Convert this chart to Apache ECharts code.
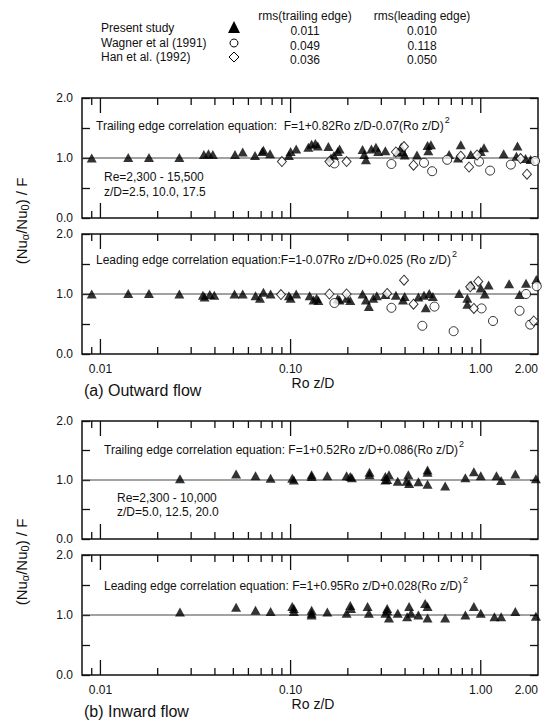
<!DOCTYPE html>
<html>
<head>
<meta charset="utf-8">
<script src="https://cdn.jsdelivr.net/npm/echarts@6/dist/echarts.min.js"></script>
<style>
  html, body { margin: 0; padding: 0; background: #fff; }
  #chart { width: 550px; height: 721px; }
</style>
</head>
<body>
<div id="chart"></div>
<script>
// Normalised Nusselt number ratio (Nu_a/Nu_0)/F against rotation parameter Ro z/D.
// (a) outward flow, (b) inward flow; trailing and leading edges.

// ---- (a) outward flow, trailing edge ----
const outTrailPresent = [
  [0.009,1.00],[0.014,1.01],[0.018,1.01],[0.026,1.01],[0.035,1.06],[0.037,1.07],[0.039,1.06],
  [0.051,1.06],[0.056,1.10],[0.065,1.04],[0.071,1.11],[0.072,1.13],[0.078,1.07],[0.098,1.04],
  [0.100,1.11],[0.107,1.15],[0.124,1.18],[0.129,1.23],[0.135,1.24],[0.139,1.20],[0.158,1.19],
  [0.163,1.00],[0.169,1.04],[0.177,1.11],[0.181,1.15],[0.239,1.14],[0.244,1.06],[0.249,0.97],
  [0.266,1.15],[0.281,1.18],[0.289,1.11],[0.315,1.12],[0.366,1.10],[0.382,1.18],[0.390,1.10],
  [0.398,1.05],[0.462,1.05],[0.525,1.21],[0.530,1.12],[0.547,1.22],[0.682,1.06],[0.760,1.00],
  [0.785,1.22],[0.886,1.06],[1.00,1.11],[1.04,1.17],[1.32,1.07],[1.54,1.03],[1.56,1.20],
  [1.72,0.99],[1.83,0.975]
];
const outTrailWagner = [
  [0.170,0.91],[0.339,0.90],[0.503,0.92],[0.555,0.78],[0.666,0.97],[0.980,0.94],[1.12,0.79],
  [1.44,0.89],[1.93,0.95]
];
const outTrailHan = [
  [0.090,0.94],[0.160,0.94],[0.197,0.94],[0.358,1.10],[0.395,1.19],[0.443,0.88],[0.785,1.03],
  [0.868,0.85],[0.957,1.05],[1.62,0.99],[1.75,0.73]
];

// ---- (a) outward flow, leading edge ----
const outLeadPresent = [
  [0.009,1.00],[0.014,1.01],[0.018,1.01],[0.026,1.00],[0.0346,0.98],[0.0353,0.95],[0.0376,0.99],
  [0.0397,0.98],[0.0507,1.00],[0.056,1.00],[0.0654,0.97],[0.069,0.93],[0.072,1.03],[0.0785,1.00],
  [0.098,0.97],[0.100,0.93],[0.107,1.00],[0.126,0.97],[0.132,0.90],[0.137,0.93],[0.140,0.89],
  [0.177,0.92],[0.181,0.90],[0.197,0.93],[0.206,0.89],[0.239,1.00],[0.249,0.90],[0.258,0.79],
  [0.272,0.93],[0.284,0.97],[0.315,0.99],[0.358,0.98],[0.390,0.90],[0.398,0.96],[0.470,0.95],
  [0.503,0.98],[0.514,0.77],[0.536,1.01],[0.560,0.96],[0.770,1.01],[0.850,0.93],[0.850,0.83],
  [0.890,1.15],[1.00,1.10],[1.05,1.00],[1.10,1.15],[1.41,1.17],[1.60,0.99],[1.73,1.18],[1.96,1.24]
];
const outLeadWagner = [
  [0.170,0.85],[0.339,0.77],[0.493,0.47],[0.571,0.79],[0.720,0.38],[1.01,0.76],[1.16,0.55],
  [1.60,0.72],[1.82,0.49],[1.73,1.00],[1.97,1.13]
];
const outLeadHan = [
  [0.089,0.99],[0.160,1.00],[0.197,1.00],[0.322,1.01],[0.395,1.23],[0.443,0.83],[0.880,1.12],
  [0.920,0.76],[0.970,1.21],[1.90,0.55]
];

// ---- (b) inward flow, trailing edge ----
const inTrailPresent = [
  [0.0262,1.02],[0.0517,1.10],[0.0654,1.07],[0.0785,1.03],[0.102,1.03],[0.104,1.00],[0.129,1.06],
  [0.129,1.09],[0.156,1.07],[0.197,1.07],[0.206,1.06],[0.210,1.04],[0.260,1.13],[0.260,1.09],
  [0.315,1.06],[0.322,1.01],[0.329,1.09],[0.315,1.00],[0.366,0.98],[0.407,0.98],[0.416,1.09],
  [0.420,0.94],[0.470,0.97],[0.525,1.17],[0.525,1.13],[0.525,0.93],[0.650,0.90],[0.830,1.04],
  [0.920,1.14],[1.00,1.07],[1.21,1.07],[1.28,0.99],[1.52,1.10],[1.95,1.02]
];

// ---- (b) inward flow, leading edge ----
const inLeadPresent = [
  [0.0262,1.05],[0.0517,1.13],[0.0654,1.08],[0.0785,1.06],[0.102,1.14],[0.104,1.11],[0.104,1.06],
  [0.129,1.08],[0.129,1.03],[0.129,1.00],[0.156,1.05],[0.197,1.03],[0.206,1.16],[0.208,1.11],
  [0.254,1.14],[0.258,1.03],[0.315,1.03],[0.322,1.11],[0.329,0.95],[0.322,1.07],[0.366,1.03],
  [0.410,0.97],[0.420,1.14],[0.430,1.03],[0.470,1.00],[0.510,1.19],[0.525,1.14],[0.525,0.95],
  [0.650,0.95],[0.830,1.00],[0.920,1.14],[1.00,1.03],[1.18,0.97],[1.28,0.97],[1.52,1.06],[1.95,0.98]
];

// F-normalised reference level
const unityLine = [[0.008, 1], [2, 1]];

// axis ranges and ticks
const xRange = [0.008, 2];
const yRange = [0, 2];
const xMajorTicks = [0.01, 0.1, 1];
const xMinorTicks = [0.009, 0.02, 0.03, 0.04, 0.05, 0.06, 0.07, 0.08, 0.09,
                     0.2, 0.3, 0.4, 0.5, 0.6, 0.7, 0.8, 0.9];
const xTickLabels = [[0.01, '0.01'], [0.1, '0.10'], [1, '1.00'], [2, '2.00']];
const yTickLabels = [[0, '0.0'], [1, '1.0'], [2, '2.0']];

// legend table
const legendRows = [
  { name: 'Present study',      symbol: 'triangle', trailing: '0.011', leading: '0.010' },
  { name: 'Wagner et al (1991)', symbol: 'circle',   trailing: '0.049', leading: '0.118' },
  { name: 'Han et al. (1992)',  symbol: 'diamond',  trailing: '0.036', leading: '0.050' }
];

const FONT = '"Liberation Sans", Arial, Helvetica, sans-serif';
const INK = '#111';

const panels = [
  { top: 98,  height: 120, labels: false, present: outTrailPresent, wagner: outTrailWagner, han: outTrailHan },
  { top: 234, height: 120, labels: true,  present: outLeadPresent,  wagner: outLeadWagner,  han: outLeadHan },
  { top: 421, height: 118, labels: false, present: inTrailPresent,  wagner: [], han: [] },
  { top: 555, height: 120, labels: true,  present: inLeadPresent,   wagner: [], han: [] }
];
const GRID_LEFT = 82, GRID_WIDTH = 456;

const measureCtx = document.createElement('canvas').getContext('2d');
function textWidth(str, size) {
  measureCtx.font = size + 'px ' + FONT;
  return measureCtx.measureText(str).width;
}

function findLabel(list, v) {
  for (const [val, txt] of list) {
    if (Math.abs(v - val) < val * 1e-6 + 1e-9) return txt;
  }
  return '';
}

const grid = [], xAxis = [], yAxis = [], series = [];
const tickData = xMajorTicks.map(v => [v, 1]).concat(xMinorTicks.map(v => [v, 0]));

panels.forEach((p, i) => {
  grid.push({
    left: GRID_LEFT, top: p.top, width: GRID_WIDTH, height: p.height,
    show: true, borderColor: INK, borderWidth: 1.5, backgroundColor: 'transparent',
    containLabel: false, outerBoundsMode: 'none'
  });
  xAxis.push({
    type: 'log', logBase: 10, gridIndex: i, min: xRange[0], max: xRange[1],
    axisLine: { show: false }, axisTick: { show: false }, splitLine: { show: false },
    axisLabel: {
      show: p.labels, margin: 9, fontSize: 12, fontFamily: FONT, color: INK,
      hideOverlap: false, showMinLabel: true, showMaxLabel: true, alignMaxLabel: 'right',
      formatter: v => findLabel(xTickLabels, v)
    }
  });
  yAxis.push({
    type: 'value', gridIndex: i, min: yRange[0], max: yRange[1], interval: 0.5,
    axisLine: { show: false }, splitLine: { show: false },
    axisTick: { show: true, inside: true, length: 8, lineStyle: { color: INK, width: 1.3 } },
    axisLabel: { margin: 9, fontSize: 12, fontFamily: FONT, color: INK,
      formatter: v => findLabel(yTickLabels, v) }
  });
  yAxis.push({
    type: 'value', gridIndex: i, position: 'right', min: yRange[0], max: yRange[1], interval: 0.5,
    axisLine: { show: false }, splitLine: { show: false }, axisLabel: { show: false },
    axisTick: { show: true, inside: true, length: 8, lineStyle: { color: INK, width: 1.3 } }
  });

  const yi = i * 2;
  // unity reference line
  series.push({
    type: 'line', xAxisIndex: i, yAxisIndex: yi, data: unityLine, symbol: 'none', z: 1,
    lineStyle: { color: '#444', width: 1 }, silent: true, animation: false
  });
  // log-decade ticks on the bottom and top frame
  series.push({
    type: 'custom', xAxisIndex: i, yAxisIndex: yi, data: tickData, z: 4, silent: true,
    clip: false, animation: false, encode: { x: 0 },
    renderItem: (params, api) => {
      const v = api.value(0);
      const len = api.value(1) === 1 ? 15 : 7;
      const b = api.coord([v, yRange[0]]);
      const t = api.coord([v, yRange[1]]);
      const st = { stroke: INK, lineWidth: 1.3 };
      return {
        type: 'group', children: [
          { type: 'line', shape: { x1: b[0], y1: b[1], x2: b[0], y2: b[1] - len }, style: st },
          { type: 'line', shape: { x1: t[0], y1: t[1], x2: t[0], y2: t[1] + len }, style: st }
        ]
      };
    }
  });
  series.push({
    type: 'scatter', name: 'Present study', xAxisIndex: i, yAxisIndex: yi, data: p.present,
    symbol: 'triangle', symbolSize: [10, 9], z: 3, animation: false,
    itemStyle: { color: '#000' }, emphasis: { disabled: true }
  });
  if (p.wagner.length) series.push({
    type: 'scatter', name: 'Wagner et al (1991)', xAxisIndex: i, yAxisIndex: yi, data: p.wagner,
    symbol: 'circle', symbolSize: 9, z: 3, animation: false,
    itemStyle: { color: '#fff', borderColor: '#000', borderWidth: 1 }, emphasis: { disabled: true }
  });
  if (p.han.length) series.push({
    type: 'scatter', name: 'Han et al. (1992)', xAxisIndex: i, yAxisIndex: yi, data: p.han,
    symbol: 'diamond', symbolSize: [9, 10], z: 3, animation: false,
    itemStyle: { color: '#fff', borderColor: '#000', borderWidth: 1 }, emphasis: { disabled: true }
  });
});

// ---- text and legend graphics ----
const graphic = [];
function txt(x, y, s, size, opts) {
  graphic.push(Object.assign({
    type: 'text', x: x, y: y, silent: true,
    style: Object.assign({
      text: s, font: size + 'px ' + FONT, fill: INK,
      align: 'left', textAlign: 'left', verticalAlign: 'middle', textVerticalAlign: 'middle'
    }, opts || {})
  }));
}
function txtC(x, y, s, size) {
  txt(x, y, s, size, { align: 'center', textAlign: 'center' });
}
function equation(x, y, s) {
  txt(x, y, s, 12);
  txt(x + textWidth(s, 12) + 1, y - 6, '2', 9);
}

// legend table
txtC(305, 16, 'rms(trailing edge)', 12);
txtC(422, 16, 'rms(leading edge)', 12);
const rowY = [28, 43, 57];
legendRows.forEach((r, k) => {
  const y = rowY[k];
  txt(101, y, r.name, 12);
  txtC(305, y + 3, r.trailing, 12);
  txtC(422, y + 3, r.leading, 12);
  const cx = 234;
  if (r.symbol === 'triangle') {
    graphic.push({ type: 'polygon', silent: true,
      shape: { points: [[cx, y - 7], [cx + 6, y + 5], [cx - 6, y + 5]] }, style: { fill: '#000' } });
  } else if (r.symbol === 'circle') {
    graphic.push({ type: 'circle', silent: true, shape: { cx: cx, cy: y, r: 4 },
      style: { fill: '#fff', stroke: '#000', lineWidth: 1 } });
  } else {
    graphic.push({ type: 'polygon', silent: true,
      shape: { points: [[cx, y - 5], [cx + 5, y], [cx, y + 5], [cx - 5, y]] },
      style: { fill: '#fff', stroke: '#000', lineWidth: 1 } });
  }
});

// panel annotations
equation(96, 126, 'Trailing edge correlation equation:  F=1+0.82Ro z/D-0.07(Ro z/D)');
txt(104, 177, 'Re=2,300 - 15,500', 12);
txt(104, 192, 'z/D=2.5, 10.0, 17.5', 12);
equation(96, 260, 'Leading edge correlation equation:F=1-0.07Ro z/D+0.025 (Ro z/D)');
equation(104, 450, 'Trailing edge correlation equation: F=1+0.52Ro z/D+0.086(Ro z/D)');
txt(117, 498, 'Re=2,300 - 10,000', 12);
txt(117, 512, 'z/D=5.0, 12.5, 20.0', 12);
equation(104, 586, 'Leading edge correlation equation: F=1+0.95Ro z/D+0.028(Ro z/D)');

// x-axis titles and part captions
txtC(313, 383, 'Ro z/D', 14);
txt(84, 390, '(a) Outward flow', 16);
txtC(313, 704, 'Ro z/D', 14);
txt(84, 711, '(b) Inward flow', 16);

// rotated y-axis title with subscripts
function yTitle(cx, cy) {
  const pieces = [['(Nu', 15, 0], ['\u03b1', 11, 4], ['/Nu', 15, 0], ['0', 11, 4], [') / F', 15, 0]];
  const total = pieces.reduce((s, p) => s + textWidth(p[0], p[1]), 0);
  let x = -total / 2;
  const children = [];
  pieces.forEach(p => {
    children.push({ type: 'text', x: x, y: p[2], silent: true,
      style: { text: p[0], font: p[1] + 'px ' + FONT, fill: INK,
        align: 'left', textAlign: 'left', verticalAlign: 'middle', textVerticalAlign: 'middle' } });
    x += textWidth(p[0], p[1]);
  });
  graphic.push({ type: 'group', x: cx, y: cy, rotation: Math.PI / 2, silent: true, children: children });
}
yTitle(21, 221);
yTitle(21, 562);

const chart = echarts.init(document.getElementById('chart'), null, { renderer: 'svg' });
chart.setOption({
  animation: false,
  backgroundColor: '#fff',
  grid: grid, xAxis: xAxis, yAxis: yAxis, series: series, graphic: graphic
});
</script>
</body>
</html>
